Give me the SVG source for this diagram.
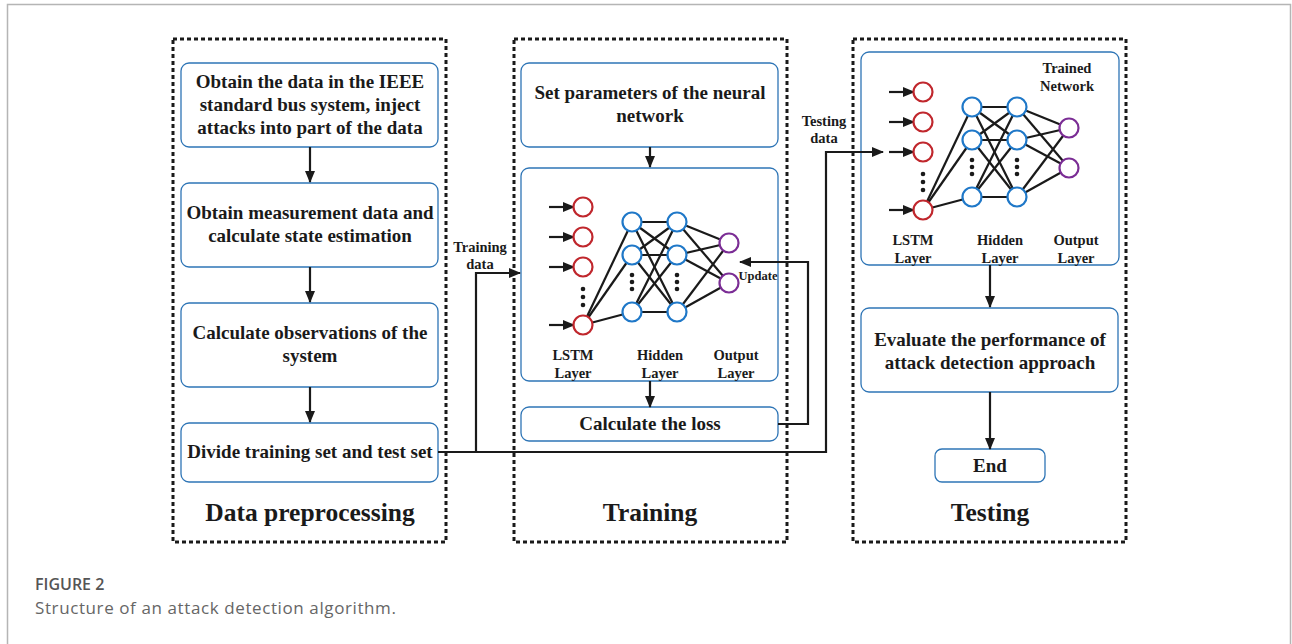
<svg xmlns="http://www.w3.org/2000/svg" width="1292" height="644" viewBox="0 0 1292 644">
<defs>
<marker id="ah" markerWidth="12" markerHeight="10" refX="11" refY="5" orient="auto" markerUnits="userSpaceOnUse">
<path d="M0,0 L12,5 L0,10 Z" fill="#1a1a1a"/>
</marker>
<style>
.frame{fill:none;stroke:#1a1a1a;stroke-width:3;stroke-dasharray:4 3}
.box{fill:#fff;stroke:#2e75b6;stroke-width:1.3}
.t{font-family:"Liberation Serif",serif;font-weight:bold;font-size:19px;fill:#1a1a1a;text-anchor:middle}
.title{font-family:"Liberation Serif",serif;font-weight:bold;font-size:25.5px;fill:#1a1a1a;text-anchor:middle}
.lab{font-family:"Liberation Serif",serif;font-weight:bold;font-size:14.5px;fill:#1a1a1a;text-anchor:middle}
.conn{fill:none;stroke:#1a1a1a;stroke-width:2.2}
.edge{stroke:#1a1a1a;stroke-width:2.2}
.red{fill:#fff;stroke:#c0272d;stroke-width:2.2}
.blue{fill:#fff;stroke:#1f78c8;stroke-width:2.2}
.pur{fill:#fff;stroke:#7b2d95;stroke-width:2.2}
.dot{fill:#1a1a1a}
.cap1{font-family:"Open Sans",sans-serif;font-weight:600;font-size:16px;fill:#555}
.cap2{font-family:"Open Sans",sans-serif;font-size:17px;letter-spacing:0.6px;fill:#666}
</style>
<g id="nnbase">
<g class="edge">
<line x1="583" y1="325" x2="632" y2="222"/><line x1="583" y1="325" x2="632" y2="255"/><line x1="583" y1="325" x2="632" y2="312"/>
<line x1="632" y1="222" x2="677" y2="222"/><line x1="632" y1="222" x2="677" y2="255"/><line x1="632" y1="222" x2="677" y2="312"/>
<line x1="632" y1="255" x2="677" y2="222"/><line x1="632" y1="255" x2="677" y2="255"/><line x1="632" y1="255" x2="677" y2="312"/>
<line x1="632" y1="312" x2="677" y2="222"/><line x1="632" y1="312" x2="677" y2="255"/><line x1="632" y1="312" x2="677" y2="312"/>
<line x1="677" y1="222" x2="729" y2="243"/><line x1="677" y1="222" x2="729" y2="283"/>
<line x1="677" y1="255" x2="729" y2="243"/><line x1="677" y1="255" x2="729" y2="283"/>
<line x1="677" y1="312" x2="729" y2="243"/><line x1="677" y1="312" x2="729" y2="283"/>
</g>
<g class="conn" marker-end="url(#ah)">
<line x1="549" y1="207" x2="574" y2="207"/><line x1="549" y1="237" x2="574" y2="237"/>
<line x1="549" y1="267" x2="574" y2="267"/><line x1="549" y1="325" x2="574" y2="325"/>
</g>
<circle class="red" cx="583" cy="207" r="9.5"/><circle class="red" cx="583" cy="237" r="9.5"/>
<circle class="red" cx="583" cy="267" r="9.5"/><circle class="red" cx="583" cy="325" r="9.5"/>
<circle class="blue" cx="632" cy="222" r="9.5"/><circle class="blue" cx="632" cy="255" r="9.5"/><circle class="blue" cx="632" cy="312" r="9.5"/>
<circle class="blue" cx="677" cy="222" r="9.5"/><circle class="blue" cx="677" cy="255" r="9.5"/><circle class="blue" cx="677" cy="312" r="9.5"/>
<circle class="pur" cx="729" cy="243" r="9.5"/><circle class="pur" cx="729" cy="283" r="9.5"/>
<circle class="dot" cx="583" cy="289" r="2.3"/><circle class="dot" cx="583" cy="297" r="2.3"/><circle class="dot" cx="583" cy="305" r="2.3"/>
<circle class="dot" cx="632" cy="275" r="2.3"/><circle class="dot" cx="632" cy="282" r="2.3"/><circle class="dot" cx="632" cy="289" r="2.3"/>
<circle class="dot" cx="677" cy="275" r="2.3"/><circle class="dot" cx="677" cy="282" r="2.3"/><circle class="dot" cx="677" cy="289" r="2.3"/>
<text class="lab" x="573" y="360">LSTM</text><text class="lab" x="573" y="378">Layer</text>
<text class="lab" x="660" y="360">Hidden</text><text class="lab" x="660" y="378">Layer</text>
<text class="lab" x="736" y="360">Output</text><text class="lab" x="736" y="378">Layer</text>
</g>
</defs>
<rect x="0" y="0" width="1292" height="644" fill="#fff"/>
<rect x="7.5" y="4.5" width="1283" height="700" fill="none" stroke="#b5b5b5" stroke-width="1.5"/>

<g id="frames">
<rect class="frame" x="173" y="39" width="273" height="503"/>
<rect class="frame" x="514" y="39" width="273" height="503"/>
<rect class="frame" x="853" y="39" width="273" height="503"/>
<text class="title" x="310" y="521">Data preprocessing</text>
<text class="title" x="650" y="521">Training</text>
<text class="title" x="990" y="521">Testing</text>
</g>

<g id="n1"><rect class="box" x="181" y="63" width="257" height="84" rx="8"/>
<text class="t" x="310" y="88">Obtain the data in the IEEE</text>
<text class="t" x="310" y="111">standard bus system, inject</text>
<text class="t" x="310" y="134">attacks into part of the data</text></g>
<g id="n2"><rect class="box" x="181" y="183" width="257" height="84" rx="8"/>
<text class="t" x="310" y="219">Obtain measurement data and</text>
<text class="t" x="310" y="242">calculate state estimation</text></g>
<g id="n3"><rect class="box" x="181" y="303" width="257" height="84" rx="8"/>
<text class="t" x="310" y="339">Calculate observations of the</text>
<text class="t" x="310" y="362">system</text></g>
<g id="n4"><rect class="box" x="181" y="423" width="257" height="59" rx="8"/>
<text class="t" x="310" y="458">Divide training set and test set</text></g>

<g id="n5"><rect class="box" x="521" y="63" width="257" height="84" rx="8"/>
<text class="t" x="650" y="99">Set parameters of the neural</text>
<text class="t" x="650" y="122">network</text></g>
<g id="n6"><rect class="box" x="521" y="168" width="257" height="213" rx="8"/>
<use href="#nnbase"/></g>
<g id="n7"><rect class="box" x="521" y="407" width="257" height="34" rx="8"/>
<text class="t" x="650" y="430">Calculate the loss</text></g>

<g id="n8"><rect class="box" x="861" y="52" width="258" height="213" rx="8"/>
<use href="#nnbase" transform="translate(340,-115)"/>
<text class="lab" x="1067" y="73">Trained</text>
<text class="lab" x="1067" y="91">Network</text></g>
<g id="n9"><rect class="box" x="861" y="308" width="257" height="84" rx="8"/>
<text class="t" x="990" y="346">Evaluate the performance of</text>
<text class="t" x="990" y="369">attack detection approach</text></g>
<g id="n10"><rect class="box" x="935" y="449" width="110" height="33" rx="7"/>
<text class="t" x="990" y="472">End</text></g>

<g id="connectors">
<g class="conn" marker-end="url(#ah)">
<line x1="310" y1="147" x2="310" y2="182"/>
<line x1="310" y1="267" x2="310" y2="302"/>
<line x1="310" y1="387" x2="310" y2="422"/>
<line x1="650" y1="147" x2="650" y2="167"/>
<line x1="650" y1="381" x2="650" y2="407"/>
<line x1="990" y1="265" x2="990" y2="307"/>
<line x1="990" y1="392" x2="990" y2="449"/>
<path d="M438,452 H826 V152 H883"/>
<path d="M476,452 V273 H520"/>
<path d="M778,424 H808 V262 H740"/>
</g>
<text class="lab" x="480" y="252">Training</text>
<text class="lab" x="480" y="269">data</text>
<text class="lab" x="824" y="126">Testing</text>
<text class="lab" x="824" y="143">data</text>
<text class="lab" x="758" y="280" style="font-size:12.5px">Update</text>
</g>

<g id="caption">
<text class="cap1" x="35" y="590">FIGURE 2</text>
<text class="cap2" x="35" y="614">Structure of an attack detection algorithm.</text>
</g>
</svg>
